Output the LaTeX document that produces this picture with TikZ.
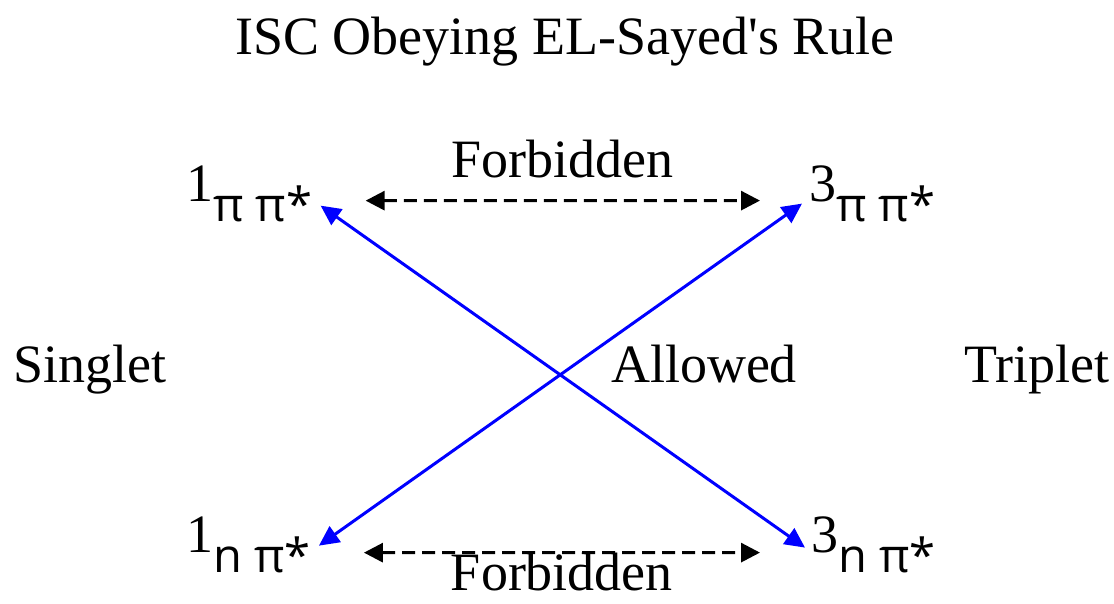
\documentclass[tikz,border=0pt]{standalone}
\usepackage{fontspec}
\setmainfont{Liberation Serif}
\newfontfamily\orbfont{Open Sans}
\usetikzlibrary{arrows.meta}
% multiplicity in serif, orbitals lowered in sans
\newcommand{\orbstate}[2]{#1\raisebox{-20pt}{\orbfont\fontsize{47}{50}\selectfont #2}}

\begin{document}
\begin{tikzpicture}[x=1pt,y=-1pt,
    txt/.style={font=\fontsize{54}{60}\selectfont, inner sep=0pt, anchor=base},
    state/.style={font=\fontsize{54}{60}\selectfont, inner sep=0pt, anchor=base west},
    isc/.style={blue, line width=3pt,
        {Triangle[length=20pt,width=19pt]}-{Triangle[length=20pt,width=19pt]}},
    forbid/.style={black, line width=3pt, dash pattern=on 13pt off 7pt,
        {Triangle[length=19pt,width=19pt]}-{Triangle[length=19pt,width=19pt]}}]
    \useasboundingbox (0,0) rectangle (1114,604);

    % Title and side labels
    \node[txt] (title) at (565,55) {ISC Obeying EL-Sayed\textquotesingle s Rule};
    \node[txt] (singlet) at (90,382) {Singlet};
    \node[txt] (triplet) at (1037,382) {Triplet};
    \node[txt] (allowed) at (704,382) {Allowed};

    % The four states
    \node[state] (s1pp) at (186,202) {\orbstate{1}{π π*}};
    \node[state] (s3pp) at (809,202) {\orbstate{3}{π π*}};
    \node[state] (s1np) at (186,552) {\orbstate{1}{n π*}};
    \node[state] (s3np) at (811,552) {\orbstate{3}{n π*}};

    % Forbidden transitions
    \draw[forbid] ([xshift=53pt,yshift=-6.25pt]s1pp.east) -- ([xshift=-49pt,yshift=-6.25pt]s3pp.west)
        node[txt, midway, yshift=23pt] (forbtop) {Forbidden};
    \draw[forbid] ([xshift=53pt,yshift=-8.25pt]s1np.east) -- ([xshift=-51pt,yshift=-8.25pt]s3np.west)
        node[txt, midway, yshift=-38pt] (forbbot) {Forbidden};

    % Allowed ISC
    \draw[isc] ([xshift=8pt,yshift=-11.25pt]s1pp.east) -- ([xshift=-6pt,yshift=-3.25pt]s3np.west);
    \draw[isc] ([xshift=8pt,yshift=-1.25pt]s1np.east) -- ([xshift=-7pt,yshift=-9.25pt]s3pp.west);
\end{tikzpicture}
\end{document}
